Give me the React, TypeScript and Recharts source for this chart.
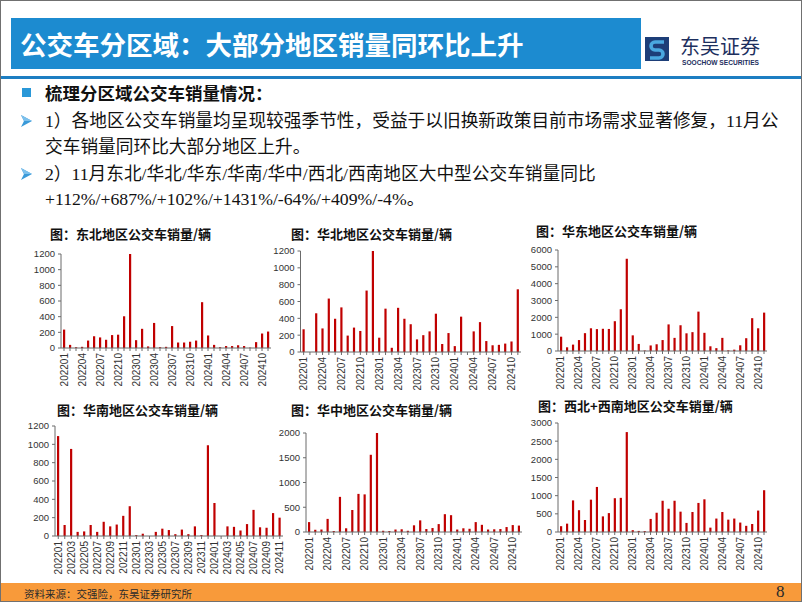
import React from 'react';
import { BarChart, Bar, XAxis, YAxis } from 'recharts';

const months = [
  '202201','202202','202203','202204','202205','202206','202207','202208','202209','202210','202211','202212',
  '202301','202302','202303','202304','202305','202306','202307','202308','202309','202310','202311','202312',
  '202401','202402','202403','202404','202405','202406','202407','202408','202409','202410','202411',
];

const northeast = [235,40,10,15,95,150,135,105,165,170,405,1200,100,245,20,320,10,15,280,70,70,80,95,585,160,40,10,25,25,35,25,5,75,185,210];
const north = [270,0,460,280,635,395,530,195,290,250,730,1200,170,515,50,525,395,330,150,200,245,455,95,225,70,420,0,245,355,130,80,85,100,125,745];
const east = [850,220,380,650,1060,1350,1300,1320,1310,1770,2480,5480,930,420,30,330,400,650,1580,780,1530,1050,1120,2340,1080,280,170,780,40,80,340,760,1950,1350,2280];
const south = [1090,120,950,45,50,120,45,155,105,125,220,325,10,25,0,45,80,65,20,70,20,105,10,990,360,0,105,100,60,130,285,95,90,250,200];
const central = [200,45,50,265,20,710,75,445,770,760,1560,2000,25,20,50,55,25,135,235,60,80,160,360,340,50,75,65,200,145,50,55,60,100,140,130];
const westArea = [160,230,870,600,330,890,1240,430,520,930,940,2750,50,30,25,360,530,860,640,860,560,250,550,800,900,120,370,550,340,370,260,170,220,590,1150];

const ticks1200 = [0,200,400,600,800,1000,1200];
const ticks6000 = [0,1000,2000,3000,4000,5000,6000];
const ticks2000 = [0,500,1000,1500,2000];
const ticks3000 = [0,500,1000,1500,2000,2500,3000];

const titles = [
  '图：东北地区公交车销量/辆',
  '图：华北地区公交车销量/辆',
  '图：华东地区公交车销量/辆',
  '图：华南地区公交车销量/辆',
  '图：华中地区公交车销量/辆',
  '图：西北+西南地区公交车销量/辆',
];

const RED = '#C00000';
const AXIS = '#6b6b6b';
const CJK = '"Noto Sans CJK SC", sans-serif';
const MIX = '"Liberation Serif", "Noto Sans CJK SC", serif';
const PAD_R = 10;

const makeTick = (step: number) => (props: any) => {
  const { x, y, payload } = props;
  const idx = months.indexOf(payload.value);
  if (idx < 0 || idx % step !== 0) return <g />;
  return (
    <text
      x={x}
      y={y}
      transform={`rotate(-90 ${x} ${y})`}
      textAnchor="end"
      dominantBaseline="central"
      fontSize={10}
      fill="#333"
      fontFamily="Liberation Sans, Arial, sans-serif"
    >
      {payload.value}
    </text>
  );
};

type ChartProps = {
  values: number[];
  ticks: number[];
  left: number;
  top: number;
  width: number;
  height: number;
  yw: number;
  step: number;
};

const MiniChart = ({ values, ticks, left, top, width, height, yw, step }: ChartProps) => {
  const data = months.map((m, i) => ({ m, v: values[i] }));
  return (
    <div style={{ position: 'absolute', left, top }}>
      <BarChart width={width + PAD_R} height={height} data={data} margin={{ top: 8, right: PAD_R, bottom: 0, left: 0 }} barCategoryGap={0}>
        <XAxis
          dataKey="m"
          interval={0}
          height={40}
          tick={makeTick(step)}
          tickSize={3}
          tickMargin={2}
          axisLine={{ stroke: AXIS }}
          tickLine={{ stroke: AXIS }}
        />
        <YAxis
          width={yw}
          domain={[ticks[0], ticks[ticks.length - 1]]}
          ticks={ticks}
          interval={0}
          allowDataOverflow
          tickSize={3}
          tickMargin={3}
          axisLine={{ stroke: AXIS }}
          tickLine={{ stroke: AXIS }}
          tick={{ fontSize: 9.5, fill: '#333', fontFamily: 'Liberation Sans, Arial, sans-serif' }}
        />
        <Bar dataKey="v" fill={RED} barSize={2.2} isAnimationActive={false} />
      </BarChart>
    </div>
  );
};

const Title = ({ text, left, cy }: { text: string; left: number; cy: number }) => (
  <div
    style={{
      position: 'absolute',
      left,
      top: cy - 9,
      height: 18,
      lineHeight: '18px',
      fontSize: 13,
      fontWeight: 700,
      fontFamily: CJK,
      color: '#111',
      whiteSpace: 'nowrap',
    }}
  >
    {text}
  </div>
);

const Arrow = ({ left, cy }: { left: number; cy: number }) => (
  <svg style={{ position: 'absolute', left, top: cy - 7 }} width={12} height={14}>
    <polygon points="0,1 11,7 0,13 3,7" fill="#3A9AD9" />
    <polygon points="0,1 11,7 3,7" fill="#7CC0EC" />
  </svg>
);

const Line = ({ text, left, cy, bold }: { text: string; left: number; cy: number; bold?: boolean }) => (
  <div
    style={{
      position: 'absolute',
      left,
      top: cy - 13,
      height: 26,
      lineHeight: '26px',
      fontSize: bold ? 17.5 : 17.7,
      fontWeight: bold ? 700 : 400,
      fontFamily: bold ? CJK : MIX,
      color: '#111',
      whiteSpace: 'nowrap',
    }}
  >
    {text}
  </div>
);

export default function App() {
  return (
    <div
      style={{
        position: 'fixed',
        left: 0,
        top: 0,
        width: 802,
        height: 602,
        background: '#fff',
        boxSizing: 'border-box',
        border: '1px solid #707070',
        overflow: 'hidden',
        fontFamily: CJK,
      }}
    >
      {/* header */}
      <div style={{ position: 'absolute', left: 10, top: 17, width: 630, height: 51, background: '#1C8BD0' }} />
      <div
        style={{
          position: 'absolute',
          left: 19,
          top: 27,
          lineHeight: '32px',
          fontSize: 26.5,
          fontWeight: 700,
          color: '#fff',
          fontFamily: CJK,
          whiteSpace: 'nowrap',
        }}
      >
        公交车分区域：大部分地区销量同环比上升
      </div>
      <svg style={{ position: 'absolute', left: 644, top: 36 }} width={24} height={24}>
        <rect x={0} y={0} width={24} height={24} fill="#1D3E78" />
        <path d="M19 5 H10 a4 4 0 0 0 0 8 h4 a4 4 0 0 1 0 8 H5" stroke="#4AA8E0" strokeWidth={3.6} fill="none" />
      </svg>
      <div style={{ position: 'absolute', left: 679, top: 35, lineHeight: '20px', fontSize: 20, color: '#1D2F5E', fontFamily: CJK, whiteSpace: 'nowrap' }}>
        东吴证券
      </div>
      <div style={{ position: 'absolute', left: 681, top: 58, lineHeight: '8px', fontSize: 6.6, fontWeight: 700, color: '#1D2F5E', fontFamily: 'Liberation Sans, Arial, sans-serif', whiteSpace: 'nowrap' }}>
        SOOCHOW SECURITIES
      </div>
      <div style={{ position: 'absolute', left: 0, top: 75, width: 802, height: 3, background: '#1C7EC2' }} />

      {/* bullets */}
      <div style={{ position: 'absolute', left: 21, top: 87, width: 9, height: 9, background: '#2A98D8' }} />
      <Line text="梳理分区域公交车销量情况：" left={44} cy={92} bold />
      <Arrow left={20} cy={120} />
      <Line text="1）各地区公交车销量均呈现较强季节性，受益于以旧换新政策目前市场需求显著修复，11月公" left={44} cy={120} />
      <Line text="交车销量同环比大部分地区上升。" left={44} cy={146} />
      <Arrow left={20} cy={173} />
      <Line text="2）11月东北/华北/华东/华南/华中/西北/西南地区大中型公交车销量同比" left={44} cy={173} />
      <Line text="+112%/+687%/+102%/+1431%/-64%/+409%/-4%。" left={44} cy={198} />

      {/* titles */}
      <Title text={titles[0]} left={49} cy={233} />
      <Title text={titles[1]} left={290} cy={233} />
      <Title text={titles[2]} left={535} cy={230} />
      <Title text={titles[3]} left={56} cy={409} />
      <Title text={titles[4]} left={290} cy={409} />
      <Title text={titles[5]} left={537} cy={405} />

      {/* charts */}
      <MiniChart values={northeast} ticks={ticks1200} left={20} top={245} width={250} height={142} yw={40} step={3} />
      <MiniChart values={north} ticks={ticks1200} left={265} top={242} width={255} height={149} yw={34.5} step={3} />
      <MiniChart values={east} ticks={ticks6000} left={520} top={241} width={246} height={149} yw={37} step={3} />
      <MiniChart values={south} ticks={ticks1200} left={20} top={417} width={262} height={158} yw={34} step={2} />
      <MiniChart values={central} ticks={ticks2000} left={265} top={424} width={256} height={147} yw={40} step={3} />
      <MiniChart values={westArea} ticks={ticks3000} left={520} top={414} width={246} height={157} yw={37} step={3} />

      {/* footer */}
      <div style={{ position: 'absolute', left: 0, top: 582, width: 802, height: 20, background: '#F89A3A' }} />
      <div style={{ position: 'absolute', left: 23, top: 585, lineHeight: '16px', fontSize: 10.5, color: '#2a2a2a', fontFamily: CJK, whiteSpace: 'nowrap' }}>
        资料来源：交强险，东吴证券研究所
      </div>
      <div style={{ position: 'absolute', left: 775, top: 581, lineHeight: '20px', fontSize: 17, color: '#2a2a2a', fontFamily: '"Liberation Serif", serif' }}>
        8
      </div>
    </div>
  );
}
